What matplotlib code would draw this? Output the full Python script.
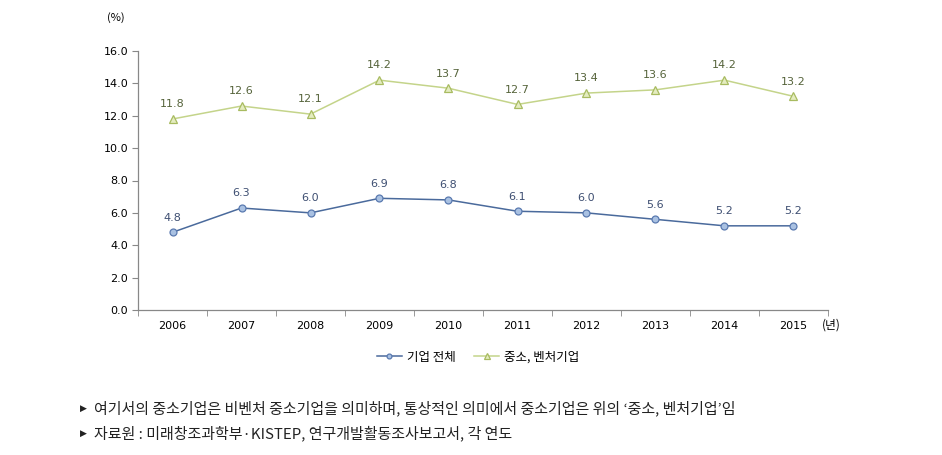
import matplotlib
matplotlib.use("Agg")
import matplotlib.pyplot as plt
from matplotlib.ticker import FixedLocator

plt.rcParams['font.family'] = ['Noto Sans CJK KR', 'DejaVu Sans']

years = ['2006', '2007', '2008', '2009', '2010', '2011', '2012', '2013', '2014', '2015']
total = [4.8, 6.3, 6.0, 6.9, 6.8, 6.1, 6.0, 5.6, 5.2, 5.2]
sme = [11.8, 12.6, 12.1, 14.2, 13.7, 12.7, 13.4, 13.6, 14.2, 13.2]
series_names = ['기업 전체', '중소, 벤처기업']
yticks = [0, 2, 4, 6, 8, 10, 12, 14, 16]
bullet = "▶"
note1 = "여기서의 중소기업은 비벤처 중소기업을 의미하며, 통상적인 의미에서 중소기업은 위의 ‘중소, 벤처기업’임"
note2 = "자료원 : 미래창조과학부·KISTEP, 연구개발활동조사보고서, 각 연도"

fig = plt.figure(figsize=(9.42, 4.55), dpi=100)
ax = fig.add_axes([138/942, 1-310/455, 690/942, 259/455])

x = list(range(len(years)))
blue_line = '#4a6a9c'
green_line = '#c4d48a'
l1, = ax.plot(x, total, color=blue_line, lw=1.1, marker='o', ms=5,
              mfc='#a9c1e2', mec='#5a7ab0', mew=0.9, label=series_names[0])
l2, = ax.plot(x, sme, color=green_line, lw=1.1, marker='^', ms=5.5,
              mfc='#e4ecc0', mec='#a8bb60', mew=0.9, label=series_names[1])

for xi, v in zip(x, total):
    ax.annotate(f'{v:.1f}', (xi, v), xytext=(0, 7), textcoords='offset points',
                ha='center', va='bottom', fontsize=8, color='#3e4f72',
                family=['DejaVu Sans'])
for xi, v in zip(x, sme):
    ax.annotate(f'{v:.1f}', (xi, v), xytext=(0, 7), textcoords='offset points',
                ha='center', va='bottom', fontsize=8, color='#55633a',
                family=['DejaVu Sans'])

ax.set_xlim(-0.5, len(years) - 0.5)
ax.set_ylim(0, 16)
ax.set_yticks(yticks)
ax.set_yticklabels([f'{t:.1f}' for t in yticks], fontsize=8, family=['DejaVu Sans'])
ax.set_xticks(x)
ax.set_xticklabels(years, fontsize=8, family=['DejaVu Sans'])
ax.tick_params(axis='x', which='major', length=0, pad=8)
ax.xaxis.set_minor_locator(FixedLocator([i - 0.5 for i in range(len(years) + 1)]))
ax.tick_params(axis='x', which='minor', length=4, color='#888888', direction='out')
ax.tick_params(axis='y', length=4, color='#888888', direction='out', pad=3)
for s in ['top', 'right']:
    ax.spines[s].set_visible(False)
for s in ['left', 'bottom']:
    ax.spines[s].set_color('#888888')
    ax.spines[s].set_linewidth(0.9)

fig.text(107/942, 1-18/455, '(%)', fontsize=8, ha='left', va='center')
fig.text(822/942, 1-325/455, '(년)', fontsize=8.5, ha='left', va='center')

fig.legend(handles=[l1, l2], loc='center', bbox_to_anchor=(478/942, 1-357/455),
           ncol=2, frameon=False, fontsize=9, handlelength=2.0,
           columnspacing=1.5, handletextpad=0.4, markerscale=0.7)

for yy, note in [(408, note1), (433, note2)]:
    fig.text(80/942, 1-yy/455, bullet, fontsize=6.5, ha='left', va='center',
             color='#222222', family=['DejaVu Sans'])
    fig.text(94/942, 1-yy/455, note, fontsize=10.8, ha='left', va='center', color='#222222')

fig.savefig('out.png', dpi=100)
